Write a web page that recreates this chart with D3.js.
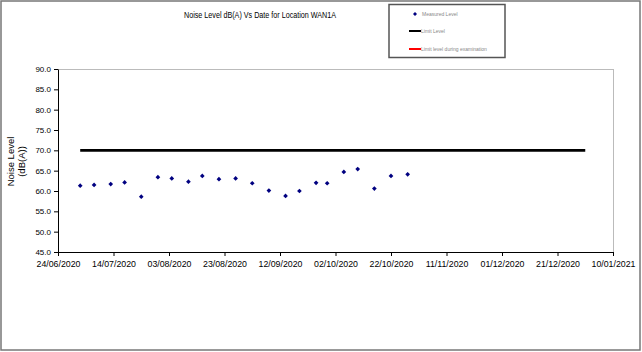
<!DOCTYPE html>
<html><head><meta charset="utf-8">
<script src="https://cdn.jsdelivr.net/npm/d3@7"></script>
<style>body{margin:0;background:#fff}svg{display:block;font-family:"Liberation Sans",Arial,sans-serif}</style>
</head><body>
<svg id="c" width="642" height="352"></svg>
<script>
const measureDates = ["02/07/2020","07/07/2020","13/07/2020","18/07/2020","24/07/2020","30/07/2020","04/08/2020","10/08/2020","15/08/2020","21/08/2020","27/08/2020","02/09/2020","08/09/2020","14/09/2020","19/09/2020","25/09/2020","29/09/2020","05/10/2020","10/10/2020","16/10/2020","22/10/2020","28/10/2020"];
const measuredLevel = [61.3,61.5,61.7,62.1,58.6,63.4,63.1,62.3,63.7,62.9,63.1,61.9,60.1,58.8,60.0,62.0,61.9,64.7,65.4,60.6,63.7,64.1];
const limitDates = ["02/07/2020","31/12/2020"];
const limitLevel = [70,70];
const xTickLabels = ["24/06/2020","14/07/2020","03/08/2020","23/08/2020","12/09/2020","02/10/2020","22/10/2020","11/11/2020","01/12/2020","21/12/2020","10/01/2021"];
const yTickValues = [45,50,55,60,65,70,75,80,85,90];
const title = "Noise Level dB(A) Vs Date for Location WAN1A";
const legendLabels = ["Measured Level","Limit Level","Limit level during examination"];

const parse = d3.timeParse("%d/%m/%Y");
const svg = d3.select("#c");
svg.append("rect").attr("x",1).attr("y",1).attr("width",639).attr("height",349)
  .attr("fill","#fff").attr("stroke","#777").attr("stroke-width",1.5);

const L=58,R=613,T=69,B=252;
const xTicks = xTickLabels.map(parse);
const x = d3.scaleTime().domain([xTicks[0], xTicks[xTicks.length-1]]).range([L,R]);
const y = d3.scaleLinear().domain([45,90]).range([B,T]);

svg.append("line").attr("x1",L).attr("x2",R).attr("y1",T+0.5).attr("y2",T+0.5).attr("stroke","#bbb");
svg.append("line").attr("x1",R+0.5).attr("x2",R+0.5).attr("y1",T).attr("y2",B).attr("stroke","#bbb");

const xAxis = svg.append("g").attr("transform",`translate(0,${B})`)
  .call(d3.axisBottom(x).tickValues(xTicks).tickFormat(d3.timeFormat("%d/%m/%Y")).tickSize(4).tickSizeOuter(0));
xAxis.selectAll("text").attr("font-size",8.8).attr("fill","#000").attr("dy","0.9em");
xAxis.selectAll("line,path").attr("stroke","#000");
xAxis.attr("font-family",null);

const yAxis = svg.append("g").attr("transform",`translate(${L},0)`)
  .call(d3.axisLeft(y).tickValues(yTickValues).tickFormat(d3.format(".1f")).tickSize(4).tickSizeOuter(0));
yAxis.selectAll("text").attr("font-size",8).attr("fill","#000");
yAxis.selectAll("line,path").attr("stroke","#000");
yAxis.attr("font-family",null);

const lim = limitDates.map((d,i)=>({d:parse(d),v:limitLevel[i]}));
svg.append("path").datum(lim).attr("fill","none").attr("stroke","#000").attr("stroke-width",2.6)
  .attr("d",d3.line().x(d=>x(d.d)).y(d=>y(d.v)));

const pts = measureDates.map((d,i)=>({d:parse(d),v:measuredLevel[i]}));
const diamond = d3.symbol().type(d3.symbolSquare).size(11);
svg.append("g").selectAll("path").data(pts).join("path")
  .attr("d",diamond).attr("fill","#000080")
  .attr("transform",d=>`translate(${x(d.d)},${y(d.v)}) rotate(45)`);

svg.append("text").attr("x",260).attr("y",18).attr("text-anchor","middle")
  .attr("font-size",9.5).attr("textLength",152).attr("lengthAdjust","spacingAndGlyphs").text(title);

const yt = svg.append("g").attr("transform","translate(0,161.5) rotate(-90)");
yt.append("text").attr("x",0).attr("y",13.5).attr("text-anchor","middle").attr("font-size",9.5).text("Noise Level");
yt.append("text").attr("x",0).attr("y",24.5).attr("text-anchor","middle").attr("font-size",9.5).text("(dB(A))");

const lg = svg.append("g");
lg.append("rect").attr("x",389).attr("y",4.5).attr("width",116).attr("height",53)
  .attr("fill","#fff").attr("stroke","#555").attr("stroke-width",1.5);
lg.append("path").attr("d",d3.symbol().type(d3.symbolSquare).size(8)).attr("fill","#000080")
  .attr("transform","translate(415,14) rotate(45)");
lg.append("line").attr("x1",409).attr("x2",421).attr("y1",31).attr("y2",31).attr("stroke","#000").attr("stroke-width",2);
lg.append("line").attr("x1",409).attr("x2",421).attr("y1",49).attr("y2",49).attr("stroke","#f00").attr("stroke-width",2);
const ly=[16,33,51], lx=[422,421,421];
legendLabels.forEach((t,i)=>{
  lg.append("text").attr("x",lx[i]).attr("y",ly[i]).attr("font-size",5).attr("fill","#888").text(t);
});
</script>
</body></html>
